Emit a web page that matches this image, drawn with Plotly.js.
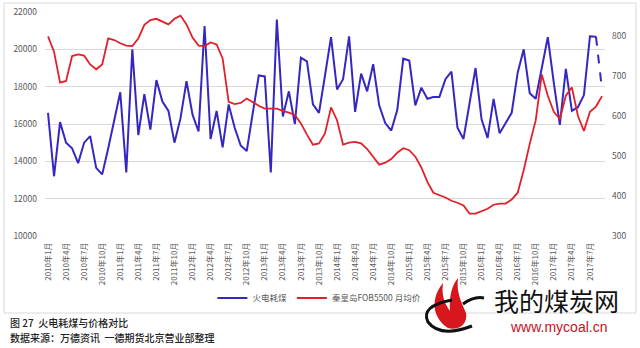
<!DOCTYPE html>
<html>
<head>
<meta charset="utf-8">
<script src="https://cdn.plot.ly/plotly-3.0.1.min.js"></script>
<style>
html,body{margin:0;padding:0;background:#fff;}
#chart{width:640px;height:348px;}
</style>
</head>
<body>
<div id="chart"></div>
<script>
// Month labels (every 3 months shown)
const tickLabels = ["2010年1月","2010年4月","2010年7月","2010年10月","2011年1月","2011年4月","2011年7月","2011年10月","2012年1月","2012年4月","2012年7月","2012年10月","2013年1月","2013年4月","2013年7月","2013年10月","2014年1月","2014年4月","2014年7月","2014年10月","2015年1月","2015年4月","2015年7月","2015年10月","2016年1月","2016年4月","2016年7月","2016年10月","2017年1月","2017年4月","2017年7月"];

// 火电耗煤 (left axis), monthly from 2010-01 to 2017-09
const coalUse = [16600,13200,16100,15000,14700,13900,15000,15350,13650,13300,
  14700,16200,17700,13400,20000,15400,17600,15700,18350,17200,
  16700,15000,16300,18300,16500,15600,21250,15200,16700,14750,
  17050,15800,14850,14550,16600,18600,18550,13400,21600,16400,
  17750,16000,19550,19350,17050,16600,18600,20650,17850,18400,
  20700,16650,18700,17750,19200,17000,16050,15650,16750,19500,
  19400,17000,17950,17350,17450,17450,18400,18800,15800,15200,
  17100,19000,16250,15250,17350,15500,16050,16600,18750,20000,
  17650,17350,19000,20650,18200,15950,18950,16700,16900,17550,
  20700,20680,17850];

// 秦皇岛FOB5500 月均价 (right axis)
const fobPrice = [798,760,683,687,749,753,750,728,716,728,
  793,789,781,775,774,793,827,839,842,835,
  828,842,850,828,795,775,774,783,778,743,
  635,629,632,643,633,625,618,618,618,612,
  608,602,581,553,528,531,556,621,589,528,
  533,535,531,517,498,478,483,492,508,519,
  514,498,471,435,408,403,396,388,383,376,
  356,356,363,368,378,381,381,391,408,464,
  530,589,703,650,610,592,650,671,600,562,
  610,623,649];

const seriesNames = ["火电耗煤","秦皇岛FOB5500 月均价"];

const idx = coalUse.map((_, i) => i);
const tickVals = tickLabels.map((_, k) => k * 3);
const nSolid = coalUse.length - 1; // last segment is dashed (estimate)

const BLUE = "#3527c2";
const RED = "#e3202a";

const traces = [
  {x: idx.slice(0, nSolid), y: coalUse.slice(0, nSolid), type: "scatter", mode: "lines",
   name: seriesNames[0], line: {color: BLUE, width: 2}, yaxis: "y"},
  {x: idx.slice(nSolid - 1), y: coalUse.slice(nSolid - 1), type: "scatter", mode: "lines",
   name: seriesNames[0], showlegend: false, line: {color: BLUE, width: 2, dash: "dash"}, yaxis: "y"},
  {x: idx, y: fobPrice, type: "scatter", mode: "lines",
   name: seriesNames[1], line: {color: RED, width: 1.8}, yaxis: "y2"}
];

// pixel -> paper helpers for decoration
const L = 45, R = 605, T = 12, B = 236;
const px = x => (x - L) / (R - L);
const py = y => (B - y) / (B - T);
function path(cmds) {
  return cmds.map(c => {
    if (typeof c === "string") return c;
    return px(c[0]).toFixed(4) + "," + py(c[1]).toFixed(4);
  }).join(" ");
}

const layout = {
  width: 640, height: 348,
  margin: {l: L, r: 640 - R, t: T, b: 348 - B, pad: 0},
  paper_bgcolor: "#ffffff", plot_bgcolor: "#ffffff",
  font: {family: "Noto Sans CJK SC, Noto Sans, sans-serif", size: 8.5, color: "#595959"},
  showlegend: true,
  xaxis: {
    range: [-0.5, coalUse.length - 0.5],
    tickvals: tickVals, ticktext: tickLabels, tickangle: -90,
    showgrid: false, zeroline: false, showline: false, ticks: "",
    tickfont: {size: 8, color: "#595959"}, ticklabelstandoff: 4, fixedrange: true
  },
  yaxis: {
    range: [10000, 22000], dtick: 2000, tickformat: "d",
    gridcolor: "#d9d9d9", gridwidth: 1, zeroline: false, showline: false, ticks: "",
    tickfont: {size: 8.5, color: "#595959"}, ticklabelstandoff: 7
  },
  yaxis2: {
    overlaying: "y", side: "right", range: [300, 859],
    tickvals: [300,400,500,600,700,800], showgrid: false, zeroline: false, showline: false, ticks: "",
    tickfont: {size: 8.5, color: "#595959"}, ticklabelstandoff: 6
  },
  legend: {
    orientation: "h", x: 0.49, xanchor: "center", y: py(298), yanchor: "middle",
    font: {size: 8.5, color: "#595959"}, itemwidth: 30, tracegroupgap: 0,
    bgcolor: "rgba(0,0,0,0)"
  },
  shapes: [
    {type: "rect", xref: "paper", yref: "paper", x0: px(4), x1: px(636), y0: py(313), y1: py(3),
     line: {color: "#d9d9d9", width: 1}, fillcolor: "rgba(0,0,0,0)", layer: "below"},
    // logo: red flame
    {type: "path", xref: "paper", yref: "paper", layer: "above",
     path: path(["M", [448,328], "C", [430,316], [432,296], [443,283], "C", [441,298], [446,305], [450,311],
                 "C", [449,296], [452,285], [458,278], "C", [456,293], [462,303], [466,313],
                 "C", [468,323], [460,331], [448,328], "Z"]),
     fillcolor: "#d7161e", line: {width: 0}},
    // logo: black swoosh
    {type: "path", xref: "paper", yref: "paper", layer: "above",
     path: path(["M", [452,300], "Q", [420,306], [428,322], "Q", [440,338], [472,326]]),
     line: {color: "#111", width: 3}},
    {type: "path", xref: "paper", yref: "paper", layer: "above",
     path: path(["M", [463,304], "Q", [474,296], [484,298]]),
     line: {color: "#111", width: 3}}
  ],
  annotations: [
    {xref: "paper", yref: "paper", x: px(8), y: py(322), xanchor: "left", yanchor: "middle",
     text: "图 27  火电耗煤与价格对比", showarrow: false,
     font: {size: 10, color: "#222222", family: "Noto Sans CJK SC", weight: 500}},
    {xref: "paper", yref: "paper", x: px(8), y: py(337), xanchor: "left", yanchor: "middle",
     text: "数据来源：万德资讯  一德期货北京营业部整理", showarrow: false,
     font: {size: 10, color: "#222222", family: "Noto Sans CJK SC", weight: 500}},
    {xref: "paper", yref: "paper", x: px(556), y: py(300), xanchor: "center", yanchor: "middle",
     text: "我的煤炭网", showarrow: false,
     font: {size: 25, color: "#111111", family: "Noto Sans CJK SC"}},
    {xref: "paper", yref: "paper", x: px(558), y: py(327), xanchor: "center", yanchor: "middle",
     text: "www.mycoal.cn", showarrow: false,
     font: {size: 14, color: "#c8101c", family: "Liberation Sans, Arial, sans-serif"}}
  ]
};

Plotly.newPlot("chart", traces, layout, {staticPlot: true, displayModeBar: false});
</script>
</body>
</html>
